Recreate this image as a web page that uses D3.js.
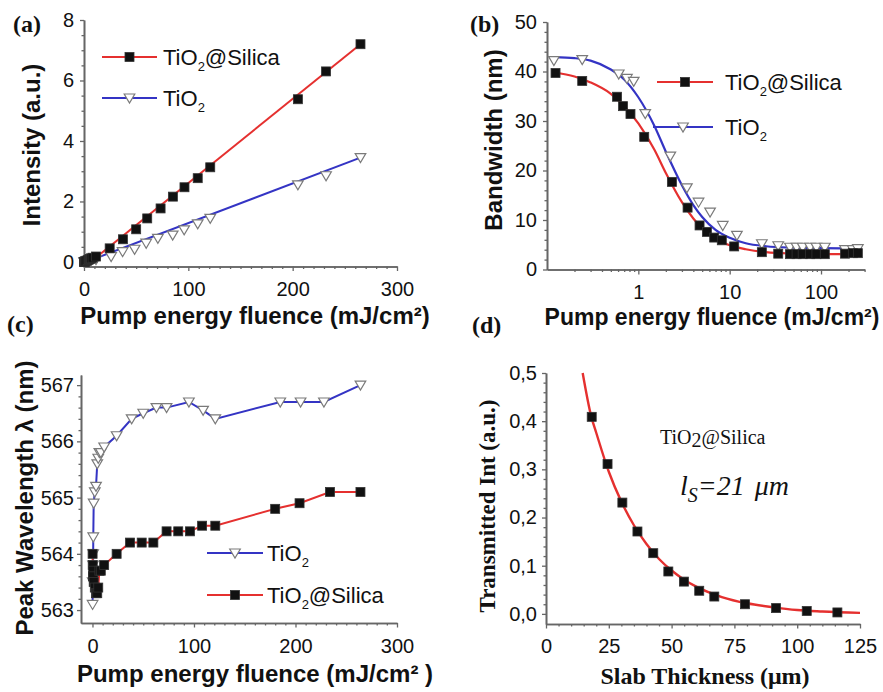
<!DOCTYPE html>
<html>
<head>
<meta charset="utf-8">
<script src="https://cdn.jsdelivr.net/npm/d3@7"></script>
<style>
  body { margin: 0; background: #fff; }
  svg { display: block; }
</style>
</head>
<body>
<svg id="fig" width="883" height="692"></svg>
<script>
// ---------- (a) emission intensity vs pump energy fluence ----------
const aFluenceSilica = [0.12, 0.24, 0.6, 0.8, 1.2, 2.3, 3.5, 4.7, 5.7, 6.8, 8.2, 11.5, 24.6, 37.3, 50, 60.6, 73.4, 85.2, 96.3, 109, 121, 205, 232, 265];
const aIntensitySilica = [0.0, 0.0, 0.01, 0.01, 0.02, 0.04, 0.06, 0.08, 0.1, 0.12, 0.14, 0.18, 0.45, 0.75, 1.08, 1.44, 1.77, 2.16, 2.47, 2.77, 3.13, 5.38, 6.3, 7.2];
const aFluenceTiO2 = [0.12, 0.24, 0.6, 1.2, 2.3, 4.7, 6.8, 11.5, 26, 37, 48.5, 59.6, 70.8, 85, 96, 109, 121, 205, 232, 265];
const aIntensityTiO2 = [0.0, 0.0, 0.0, 0.01, 0.02, 0.03, 0.05, 0.08, 0.18, 0.34, 0.42, 0.62, 0.78, 0.89, 1.06, 1.26, 1.44, 2.55, 2.85, 3.45];
// straight-line fits
const aFitFluence = [8, 265];
const aFitSilica = [0.05, 7.2];
const aFitTiO2 = [0.08, 3.45];

// ---------- (b) emission bandwidth vs pump energy fluence (log) ----------
const bFluenceSilica = [0.124, 0.243, 0.585, 0.68, 0.82, 1.16, 2.33, 3.46, 4.68, 5.63, 6.77, 8.2, 11.2, 22.5, 34, 45.7, 54, 63, 76, 89, 110, 183, 223, 253];
const bWidthSilica = [39.7, 38.1, 34.9, 33.0, 31.4, 26.8, 17.7, 12.5, 8.9, 7.6, 6.45, 5.9, 4.66, 3.5, 3.2, 3.1, 3.1, 3.1, 3.1, 3.1, 3.1, 3.2, 3.3, 3.3];
const bFluenceTiO2 = [0.119, 0.243, 0.61, 0.75, 0.89, 1.19, 2.24, 3.4, 4.56, 6.1, 8.4, 12, 22.5, 34, 45.7, 54, 63, 76, 89, 110, 183, 223, 253];
const bWidthTiO2 = [42.2, 42.4, 39.5, 38.6, 38.0, 31.5, 22.9, 16.5, 13.6, 11.6, 8.9, 6.9, 5.2, 4.8, 4.5, 4.5, 4.5, 4.5, 4.5, 4.5, 4.0, 4.0, 4.2];
// sigmoidal fit curves
const bFitFluence = [0.12, 0.2, 0.3, 0.5, 0.7, 1.0, 1.5, 2.0, 3.0, 4.0, 5.0, 7.0, 10, 15, 25, 50, 100, 280];
const bFitSilica = [39.8, 39.0, 37.8, 35.5, 33.0, 29.5, 24.2, 19.5, 13.6, 10.3, 8.3, 6.2, 4.9, 4.1, 3.5, 3.2, 3.1, 3.1];
const bFitTiO2 = [42.9, 42.7, 42.2, 40.4, 38.4, 34.8, 29.0, 23.8, 17.0, 13.0, 10.6, 8.0, 6.4, 5.3, 4.7, 4.4, 4.3, 4.2];

// ---------- (c) peak wavelength vs pump energy fluence ----------
const cFluenceTiO2 = [0.12, 0.24, 0.6, 0.7, 0.8, 1.2, 2.3, 3.5, 4.7, 5.7, 6.8, 8.2, 11.5, 23.8, 38.6, 50, 63, 73, 95, 109, 121, 185, 205, 228, 264];
const cPeakTiO2 = [563.1, 563.5, 563.8, 564.0, 564.3, 564.9, 565.1, 565.2, 565.6, 565.7, 565.8, 565.8, 565.9, 566.1, 566.4, 566.5, 566.6, 566.6, 566.7, 566.55, 566.4, 566.7, 566.7, 566.7, 567.0];
const cFluenceSilica = [0.12, 0.24, 0.6, 0.7, 0.8, 1.2, 2.3, 3.5, 4.7, 5.7, 6.8, 8.2, 11.5, 23.8, 37, 48.5, 60, 73, 84.5, 96, 108, 121, 180, 204, 234, 264];
const cPeakSilica = [564.0, 563.8, 563.6, 563.7, 563.6, 563.5, 563.4, 563.3, 563.3, 563.4, 563.7, 563.7, 563.8, 564.0, 564.2, 564.2, 564.2, 564.4, 564.4, 564.4, 564.5, 564.5, 564.8, 564.9, 565.1, 565.1];

// ---------- (d) transmitted intensity vs slab thickness ----------
const dThickness = [18.2, 24.5, 30.4, 36.4, 42.7, 48.7, 54.9, 61, 67, 79.2, 91.6, 103.8, 116];
const dTransmitted = [0.409, 0.311, 0.231, 0.171, 0.126, 0.088, 0.067, 0.048, 0.036, 0.020, 0.012, 0.006, 0.003];
// exponential fit, decay length 21 µm
const dFitThickness = [14.6, 18, 20, 25, 30, 35, 40, 45, 50, 55, 60, 70, 80, 90, 100, 110, 125];
const dFitValue = [0.50, 0.41, 0.376, 0.295, 0.233, 0.184, 0.145, 0.114, 0.090, 0.071, 0.056, 0.035, 0.022, 0.014, 0.008, 0.005, 0.002];

// ---------- styling ----------
const RED = "#e5302f";
const BLUE = "#3434c4";
const AXIS = "#666";
const SANS = "'Liberation Sans', Arial, Helvetica, sans-serif";
const SERIF = "'Liberation Serif', 'Times New Roman', serif";

const svg = d3.select("#fig");
svg.append("rect").attr("width", 883).attr("height", 692).attr("fill", "#fff");

function axis(gen, tx, ty, values, size, fmt, pad, showDomain) {
  const g = svg.append("g")
    .attr("transform", `translate(${tx},${ty})`)
    .call(gen.tickValues(values).tickSize(size).tickSizeOuter(0)
      .tickPadding(pad).tickFormat(fmt || (() => "")));
  g.select(".domain").attr("stroke", AXIS).attr("stroke-width", 1.6)
    .attr("display", showDomain ? null : "none");
  g.selectAll(".tick line").attr("stroke", AXIS).attr("stroke-width", 1.3);
  g.selectAll(".tick text").attr("font-family", SANS).attr("font-size", 20).attr("fill", "#111");
  return g;
}

function squares(g, pts, size) {
  const s = size || 9;
  g.selectAll(null).data(pts).join("rect")
    .attr("x", d => d[0] - s / 2).attr("y", d => d[1] - s / 2)
    .attr("width", s).attr("height", s)
    .attr("fill", "#111").attr("stroke", "#333").attr("stroke-width", 0.8);
}

function triangles(g, pts) {
  g.selectAll(null).data(pts).join("path")
    .attr("d", d => `M${d[0] - 5.3},${d[1] - 4}L${d[0] + 5.3},${d[1] - 4}L${d[0]},${d[1] + 5}Z`)
    .attr("fill", "#fff").attr("stroke", "#7a7a7a").attr("stroke-width", 1.2);
}

function zip(xs, ys, sx, sy) {
  return xs.map((v, i) => [sx(v), sy(ys[i])]);
}

function panelTag(text, x, y) {
  svg.append("text").attr("x", x).attr("y", y)
    .attr("font-family", SERIF).attr("font-weight", "bold").attr("font-size", 24)
    .attr("fill", "#111").text(text);
}

function yTitle(text, cx, cy, family, size) {
  svg.append("text")
    .attr("transform", `translate(${cx},${cy}) rotate(-90)`)
    .attr("text-anchor", "middle").attr("dominant-baseline", "central")
    .attr("font-family", family).attr("font-weight", "bold").attr("font-size", size)
    .attr("fill", "#111").text(text);
}

// legend label "TiO2..." with a lowered small 2
function tioLabel(x, by, rest) {
  const t = svg.append("text").attr("x", x).attr("y", by)
    .attr("font-family", SANS).attr("font-size", 22).attr("fill", "#111");
  t.append("tspan").text("TiO");
  t.append("tspan").attr("font-size", 13).attr("dy", 6).text("2");
  if (rest) t.append("tspan").attr("dy", -6).text(rest);
}

function legendEntry(x1, x2, y, color, marker) {
  svg.append("line").attr("x1", x1).attr("x2", x2).attr("y1", y).attr("y2", y)
    .attr("stroke", color).attr("stroke-width", 2);
  const g = svg.append("g");
  const mx = (x1 + x2) / 2;
  if (marker === "square") squares(g, [[mx, y]]); else triangles(g, [[mx, y]]);
}

const line = d3.line();

// =================== (a) ===================
{
  const x = d3.scaleLinear([0, 300], [84, 397]);
  const y = d3.scaleLinear([-0.15, 8], [266.5, 20]);
  axis(d3.axisLeft(y), 84, 0, d3.range(0.5, 8, 0.5).filter(v => v % 2 !== 0), 2.5, null, 0, true);
  axis(d3.axisLeft(y), 84, 0, [0, 2, 4, 6, 8], 4, d3.format("d"), 6, true);
  axis(d3.axisBottom(x), 0, 266.5, d3.range(10, 300, 10).filter(v => v % 100 !== 0), 2.5, null, 0, true);
  axis(d3.axisBottom(x), 0, 266.5, [0, 100, 200, 300], 4.5, d3.format("d"), 11, true);

  const g = svg.append("g");
  g.append("path").attr("d", line(zip(aFitFluence, aFitTiO2, x, y)))
    .attr("fill", "none").attr("stroke", BLUE).attr("stroke-width", 2);
  g.append("path").attr("d", line(zip(aFitFluence, aFitSilica, x, y)))
    .attr("fill", "none").attr("stroke", RED).attr("stroke-width", 2);
  triangles(g, zip(aFluenceTiO2, aIntensityTiO2, x, y));
  squares(g, zip(aFluenceSilica, aIntensitySilica, x, y));

  panelTag("(a)", 13, 32);
  yTitle("Intensity (a.u.)", 31, 145, SANS, 24);
  svg.append("text").attr("x", 255).attr("y", 324).attr("text-anchor", "middle")
    .attr("font-family", SANS).attr("font-weight", "bold").attr("font-size", 24).attr("fill", "#111")
    .text("Pump energy fluence (mJ/cm²)");

  legendEntry(102, 157, 57, RED, "square");
  tioLabel(163, 65, "@Silica");
  legendEntry(102, 157, 98, BLUE, "triangle");
  tioLabel(163, 106);
}

// =================== (b) ===================
{
  const x = d3.scaleLog([0.1, 300], [547, 864.6]);
  const y = d3.scaleLinear([0, 50], [269.5, 22]);
  axis(d3.axisLeft(y), 547, 0, d3.range(2, 50, 2).filter(v => v % 10 !== 0), 2.5, null, 0, true);
  axis(d3.axisLeft(y), 547, 0, [0, 10, 20, 30, 40, 50], 4, d3.format("d"), 6, true);
  const minorsB = [0.2, 0.3, 0.4, 0.5, 0.6, 0.7, 0.8, 0.9, 2, 3, 4, 5, 6, 7, 8, 9, 20, 30, 40, 50, 60, 70, 80, 90, 200, 300];
  axis(d3.axisBottom(x), 0, 269.5, minorsB, 2.5, null, 0, true);
  axis(d3.axisBottom(x), 0, 269.5, [1, 10, 100], 5, d3.format("d"), 10.3, true);

  const g = svg.append("g");
  const curve = d3.line().curve(d3.curveMonotoneX);
  g.append("path").attr("d", curve(zip(bFitFluence, bFitTiO2, x, y)))
    .attr("fill", "none").attr("stroke", BLUE).attr("stroke-width", 2.2);
  g.append("path").attr("d", curve(zip(bFitFluence, bFitSilica, x, y)))
    .attr("fill", "none").attr("stroke", RED).attr("stroke-width", 2.2);
  triangles(g, zip(bFluenceTiO2, bWidthTiO2, x, y));
  squares(g, zip(bFluenceSilica, bWidthSilica, x, y));

  panelTag("(b)", 470, 32);
  yTitle("Bandwidth (nm)", 493, 140, SANS, 24);
  svg.append("text").attr("x", 712).attr("y", 325).attr("text-anchor", "middle")
    .attr("font-family", SANS).attr("font-weight", "bold").attr("font-size", 23).attr("fill", "#111")
    .text("Pump energy fluence (mJ/cm²)");

  legendEntry(657, 713, 82, RED, "square");
  tioLabel(725, 90, "@Silica");
  legendEntry(653, 713, 127, BLUE, "triangle");
  tioLabel(725, 135);
}

// =================== (c) ===================
{
  const x = d3.scaleLinear([-11.3, 300], [81, 397]);
  const y = d3.scaleLinear([562.77, 567.18], [623, 375]);
  const yMin = d3.range(0, 21).map(i => 563 + i * 0.2).filter((v, i) => i % 5 !== 0);
  axis(d3.axisLeft(y), 81, 0, yMin, 2.5, null, 0, true);
  axis(d3.axisLeft(y), 81, 0, [563, 564, 565, 566, 567], 4, d3.format("d"), 3, true);
  axis(d3.axisBottom(x), 0, 623, d3.range(10, 300, 10).filter(v => v % 100 !== 0), 2.5, null, 0, true);
  axis(d3.axisBottom(x), 0, 623, [0, 100, 200, 300], 4.5, d3.format("d"), 10.8, true);

  const g = svg.append("g");
  g.append("path").attr("d", line(zip(cFluenceTiO2, cPeakTiO2, x, y)))
    .attr("fill", "none").attr("stroke", BLUE).attr("stroke-width", 2);
  g.append("path").attr("d", line(zip(cFluenceSilica, cPeakSilica, x, y)))
    .attr("fill", "none").attr("stroke", RED).attr("stroke-width", 2);
  triangles(g, zip(cFluenceTiO2, cPeakTiO2, x, y));
  squares(g, zip(cFluenceSilica, cPeakSilica, x, y));

  panelTag("(c)", 7, 332);
  yTitle("Peak Wavelength λ (nm)", 24, 498, SANS, 24);
  svg.append("text").attr("x", 255).attr("y", 682).attr("text-anchor", "middle")
    .attr("font-family", SANS).attr("font-weight", "bold").attr("font-size", 24).attr("fill", "#111")
    .text("Pump energy fluence (mJ/cm² )");

  legendEntry(207, 263, 553, BLUE, "triangle");
  tioLabel(267, 561);
  legendEntry(207, 263, 595, RED, "square");
  tioLabel(267, 603, "@Silica");
}

// =================== (d) ===================
{
  const x = d3.scaleLinear([0, 125], [546, 860]);
  const y = d3.scaleLinear([-0.021, 0.5], [624, 373]);
  const comma = d3.formatLocale({ decimal: ",", thousands: ".", grouping: [3], currency: ["", ""] }).format(".1f");
  const yMin = d3.range(0, 26).map(i => i * 0.02).filter((v, i) => i % 5 !== 0);
  axis(d3.axisLeft(y), 546, 0, yMin, 2.5, null, 0, true);
  axis(d3.axisLeft(y), 546, 0, [0, 0.1, 0.2, 0.3, 0.4, 0.5], 4, comma, 5, true);
  axis(d3.axisBottom(x), 0, 624, d3.range(5, 125, 5).filter(v => v % 25 !== 0), 2.5, null, 0, true);
  axis(d3.axisBottom(x), 0, 624, [0, 25, 50, 75, 100, 125], 4.5, d3.format("d"), 9.8, true);

  const g = svg.append("g");
  g.append("path").attr("d", d3.line().curve(d3.curveMonotoneX)(zip(dFitThickness, dFitValue, x, y)))
    .attr("fill", "none").attr("stroke", RED).attr("stroke-width", 2.4);
  squares(g, zip(dThickness, dTransmitted, x, y));

  panelTag("(d)", 472, 333);
  yTitle("Transmitted Int (a.u.)", 487, 506, SERIF, 23);
  svg.append("text").attr("x", 705).attr("y", 684).attr("text-anchor", "middle")
    .attr("font-family", SERIF).attr("font-weight", "bold").attr("font-size", 24).attr("fill", "#111")
    .text("Slab Thickness (μm)");

  const s = svg.append("text").attr("x", 660).attr("y", 444)
    .attr("font-family", SERIF).attr("font-size", 20).attr("fill", "#111");
  s.append("tspan").text("TiO");
  s.append("tspan").attr("dy", 3).text("2");
  s.append("tspan").attr("dy", -3).text("@Silica");

  const ls = svg.append("text").attr("x", 680).attr("y", 495)
    .attr("font-family", SERIF).attr("font-style", "italic").attr("font-size", 28).attr("fill", "#111");
  ls.append("tspan").text("l");
  ls.append("tspan").attr("font-size", 20).attr("dy", 7).text("S");
  ls.append("tspan").attr("dy", -7).text("=21 ");
  ls.append("tspan").attr("dx", 3).text("μm");
}
</script>
</body>
</html>
